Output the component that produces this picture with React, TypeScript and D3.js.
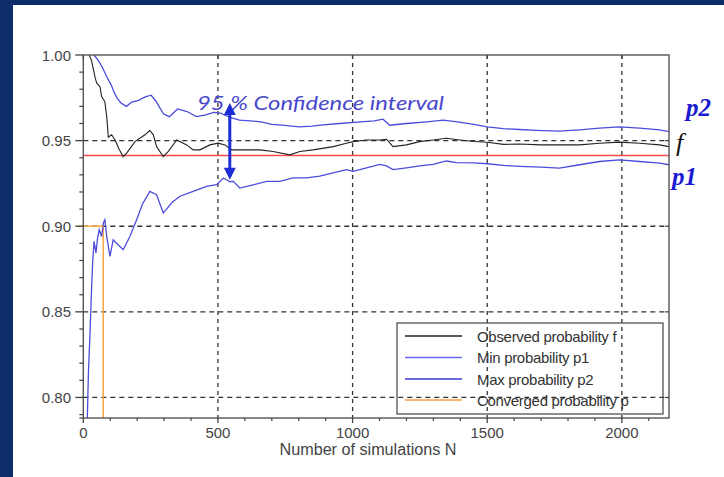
import React from "react";
import * as d3 from "d3";

// ---- Data ----
const observedF: [number, number][] = [
  [22, 1.0], [30, 0.997], [37, 0.992], [45, 0.986], [50, 0.9835], [62, 0.9815], [68, 0.9757],
  [80, 0.9728], [87, 0.964], [93, 0.952], [105, 0.9534], [118, 0.9504], [133, 0.945], [148, 0.9407],
  [161, 0.9427], [192, 0.9494], [229, 0.9534], [247, 0.9559], [260, 0.9534], [272, 0.9465],
  [297, 0.9407], [315, 0.9436], [347, 0.9504], [384, 0.9475], [408, 0.9446], [433, 0.9446],
  [470, 0.9475], [501, 0.9485], [526, 0.9475], [551, 0.9446], [606, 0.9446], [656, 0.9446],
  [705, 0.9436], [767, 0.9417], [804, 0.9436], [853, 0.9446], [928, 0.9465], [977, 0.9485],
  [1002, 0.9494], [1052, 0.9504], [1101, 0.9504], [1126, 0.9508], [1150, 0.9465], [1200, 0.9475],
  [1249, 0.9494], [1299, 0.9504], [1348, 0.9514], [1398, 0.9504], [1450, 0.9495], [1500, 0.949],
  [1560, 0.9478], [1620, 0.948], [1700, 0.9475], [1768, 0.9475], [1843, 0.9475], [1917, 0.9485],
  [1991, 0.9491], [2066, 0.9485], [2140, 0.9475], [2175, 0.9465],
];

const minP1: [number, number][] = [
  [15, 0.788], [19, 0.8144], [25, 0.8377], [31, 0.8649], [35, 0.8795], [40, 0.8912], [47, 0.8844],
  [53, 0.893], [59, 0.898], [68, 0.894], [75, 0.902], [80, 0.9038], [87, 0.894], [99, 0.8824],
  [111, 0.8921], [130, 0.889], [148, 0.8863], [173, 0.894], [198, 0.9038], [220, 0.913],
  [247, 0.9203], [272, 0.9184], [297, 0.9077], [330, 0.914], [359, 0.9175], [408, 0.9203],
  [458, 0.9233], [495, 0.9243], [520, 0.9282], [545, 0.926], [557, 0.9262], [581, 0.9223],
  [631, 0.9242], [681, 0.9262], [730, 0.9262], [779, 0.9282], [829, 0.9282], [878, 0.9292],
  [928, 0.9311], [977, 0.9331], [1002, 0.9321], [1052, 0.9341], [1101, 0.9361], [1126, 0.9352],
  [1150, 0.9331], [1200, 0.9341], [1249, 0.9352], [1299, 0.9361], [1348, 0.9381], [1386, 0.9371],
  [1450, 0.937], [1500, 0.9365], [1560, 0.9355], [1620, 0.935], [1700, 0.9345], [1768, 0.9339],
  [1843, 0.9359], [1917, 0.9378], [1991, 0.9388], [2066, 0.9378], [2140, 0.9368], [2175, 0.9359],
];

const maxP2: [number, number][] = [
  [40, 1.0], [55, 0.997], [70, 0.993], [85, 0.988], [95, 0.985], [105, 0.982], [115, 0.978],
  [125, 0.975], [140, 0.972], [160, 0.97], [180, 0.9725], [205, 0.9735], [230, 0.9755],
  [252, 0.9765], [270, 0.973], [285, 0.969], [298, 0.9655], [320, 0.964], [350, 0.9685],
  [385, 0.967], [420, 0.964], [455, 0.965], [485, 0.9665], [510, 0.966], [545, 0.9635],
  [580, 0.962], [620, 0.9615], [660, 0.961], [700, 0.9595], [740, 0.959], [800, 0.958],
  [850, 0.9585], [880, 0.959], [950, 0.96], [1030, 0.961], [1080, 0.9615], [1113, 0.9625],
  [1138, 0.959], [1200, 0.96], [1275, 0.961], [1336, 0.962], [1390, 0.961], [1450, 0.9595],
  [1500, 0.958], [1560, 0.957], [1620, 0.9565], [1680, 0.956], [1768, 0.9555], [1843, 0.9563],
  [1917, 0.9573], [1991, 0.958], [2066, 0.9573], [2140, 0.9563], [2175, 0.9553],
];

const convergedP = 0.9413;
const convergedN = 74;
const convergedMark = 0.9;
const arrowN = 544;
const arrowTop = 0.972;
const arrowBottom = 0.9271;

const xDomain: [number, number] = [0, 2175];
const yDomain: [number, number] = [0.788, 1.0];
const xTicks = [0, 500, 1000, 1500, 2000];
const yTicks = [0.8, 0.85, 0.9, 0.95, 1.0];
const legendLabels = [
  "Observed probability f",
  "Min probability p1",
  "Max probability p2",
  "Converged probability p",
];

export default function App() {
  const W = 724, H = 477;
  const left = 83.3, right = 669, top = 55, bottom = 418;
  const x = d3.scaleLinear().domain(xDomain).range([left, right]);
  const y = d3.scaleLinear().domain(yDomain).range([bottom, top]);
  const line = d3.line<[number, number]>().x((d) => x(d[0])).y((d) => y(d[1]));

  const xMinor = d3.range(0, 2175, 100).filter((v) => v % 500 !== 0);
  const yMinor = d3.range(0.79, 1.0, 0.01).filter((v) => Math.abs((v * 100) % 5) > 0.01 && Math.abs((v * 100) % 5 - 5) > 0.01);

  const blue = "#4c4cdc";
  const font = "'Liberation Sans', Arial, sans-serif";
  const legendColors = ["#222222", "#6a6aee", "#3a3ad6", "#f0a040"];
  const legendX0 = 397, legendY0 = 323, legendW = 266, legendH = 91;
  const rowY = [336, 357.5, 379, 400];

  const ax = x(arrowN);
  const ayT = y(arrowTop);
  const ayB = y(arrowBottom);
  const ah = 12, aw = 6;

  return (
    <svg width={W} height={H} style={{ position: "absolute", left: 0, top: 0 }}>
      <rect x={0} y={0} width={W} height={H} fill="#0c2c6a" />
      <rect x={13} y={5} width={W - 13} height={H - 5} fill="#ffffff" />
      <defs>
        <clipPath id="plotclip">
          <rect x={left} y={top} width={right - left} height={bottom - top} />
        </clipPath>
      </defs>

      {/* grid */}
      {xTicks.filter((t) => t > 0).map((t) => (
        <line key={"gx" + t} x1={x(t)} x2={x(t)} y1={top} y2={bottom} stroke="#333" strokeWidth={1.3} strokeDasharray="4,4" />
      ))}
      {yTicks.filter((t) => t < 1).map((t) => (
        <line key={"gy" + t} x1={left} x2={right} y1={y(t)} y2={y(t)} stroke="#333" strokeWidth={1.3} strokeDasharray="5,4" />
      ))}

      <g clipPath="url(#plotclip)">
        <line x1={x(xDomain[0])} x2={x(xDomain[1])} y1={y(convergedP)} y2={y(convergedP)} stroke="#ff4a4a" strokeWidth={1.6} />
        <line x1={x(convergedN)} x2={x(convergedN)} y1={y(convergedMark)} y2={y(yDomain[0])} stroke="#f5a742" strokeWidth={1.5} />
        <path d={line(minP1) || ""} fill="none" stroke={blue} strokeWidth={1.3} />
        <path d={line(maxP2) || ""} fill="none" stroke={blue} strokeWidth={1.3} />
        <path d={line(observedF) || ""} fill="none" stroke="#222" strokeWidth={1.1} />
      </g>
      <line x1={x(0) - 6} x2={x(convergedN)} y1={y(convergedMark)} y2={y(convergedMark)} stroke="#f5a742" strokeWidth={1.5} />

      {/* frame */}
      <rect x={left} y={top} width={right - left} height={bottom - top} fill="none" stroke="#555" strokeWidth={1.4} />

      {/* y ticks */}
      {yTicks.map((t) => (
        <g key={"yt" + t}>
          <line x1={left - 8} x2={left} y1={y(t)} y2={y(t)} stroke="#444" strokeWidth={1.3} />
          <text x={71} y={y(t)} dominantBaseline="central" textAnchor="end" fontFamily={font} fontSize={15} fill="#444">
            {t.toFixed(2)}
          </text>
        </g>
      ))}
      {yMinor.map((t) => (
        <line key={"ym" + t} x1={left - 4} x2={left} y1={y(t)} y2={y(t)} stroke="#444" strokeWidth={1.2} />
      ))}
      <line x1={left - 4} x2={left} y1={bottom} y2={bottom} stroke="#444" strokeWidth={1.2} />

      {/* x ticks */}
      {xTicks.map((t) => (
        <g key={"xt" + t}>
          <line x1={x(t)} x2={x(t)} y1={bottom} y2={bottom + 5} stroke="#444" strokeWidth={1.3} />
          <line x1={x(t)} x2={x(t)} y1={top} y2={top + 4} stroke="#444" strokeWidth={1.3} />
          <text x={x(t)} y={438} textAnchor="middle" fontFamily={font} fontSize={15} fill="#444">
            {t}
          </text>
        </g>
      ))}
      {xMinor.map((t) => (
        <line key={"xm" + t} x1={x(t)} x2={x(t)} y1={bottom} y2={bottom + 3} stroke="#444" strokeWidth={1.2} />
      ))}
      {yTicks.filter((t) => t < 1).map((t) => (
        <line key={"yr" + t} x1={right - 4} x2={right} y1={y(t)} y2={y(t)} stroke="#444" strokeWidth={1.2} />
      ))}

      <text x={368} y={455} textAnchor="middle" fontFamily={font} fontSize={16} fill="#444" textLength={177} lengthAdjust="spacingAndGlyphs">
        Number of simulations N
      </text>

      {/* legend */}
      <rect x={legendX0} y={legendY0} width={legendW} height={legendH} fill="none" stroke="#444" strokeWidth={1.2} />
      {legendLabels.map((l, i) => (
        <g key={l}>
          <line x1={405} x2={462} y1={rowY[i]} y2={rowY[i]} stroke={legendColors[i]} strokeWidth={1.4} />
          <text x={477} y={rowY[i]} dominantBaseline="central" fontFamily={font} fontSize={15} fill="#333" letterSpacing={-0.3}>
            {l}
          </text>
        </g>
      ))}

      {/* annotations */}
      <text x={197} y={110} fontFamily="Lato, 'Open Sans', sans-serif" fontStyle="italic" fontSize={19} fill="#4848cc" textLength={247} lengthAdjust="spacingAndGlyphs">
        95 % Confidence interval
      </text>
      <line x1={ax} x2={ax} y1={ayT + ah - 1} y2={ayB - ah + 1} stroke="#1d2fd4" strokeWidth={3} />
      <path d={`M${ax},${ayT} L${ax - aw},${ayT + ah} L${ax + aw},${ayT + ah} Z`} fill="#1d2fd4" />
      <path d={`M${ax},${ayB} L${ax - aw},${ayB - ah} L${ax + aw},${ayB - ah} Z`} fill="#1d2fd4" />

      <text x={686} y={116} fontFamily="'Liberation Serif', 'Times New Roman', serif" fontStyle="italic" fontWeight="bold" fontSize={25} fill="#1a1ad2">
        p2
      </text>
      <text x={676} y={151} fontFamily="'Liberation Serif', 'Times New Roman', serif" fontStyle="italic" fontSize={26} fill="#111">
        f
      </text>
      <text x={672} y={185} fontFamily="'Liberation Serif', 'Times New Roman', serif" fontStyle="italic" fontWeight="bold" fontSize={25} fill="#1a1ad2">
        p1
      </text>
    </svg>
  );
}
